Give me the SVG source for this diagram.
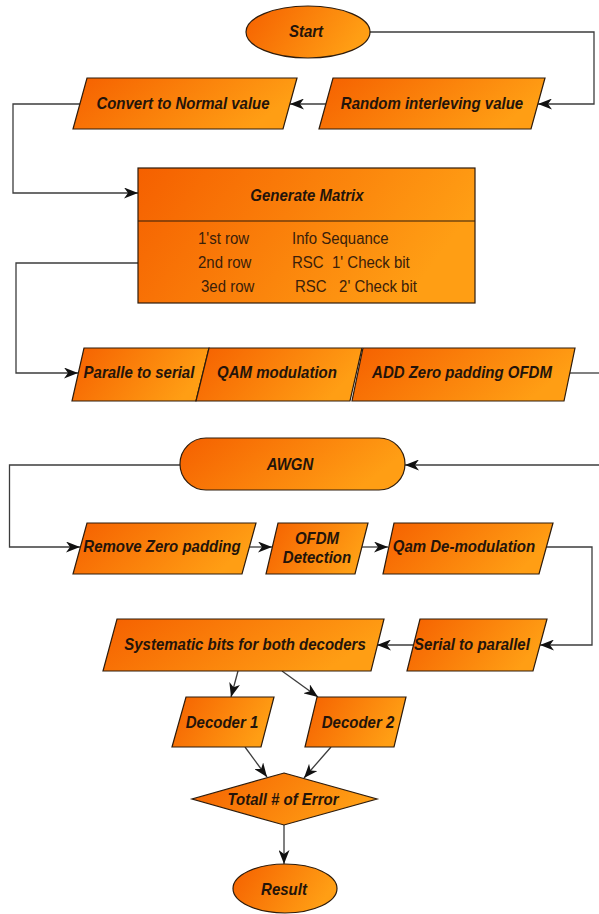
<svg xmlns="http://www.w3.org/2000/svg" width="599" height="914" viewBox="0 0 599 914">
<defs>
<linearGradient id="og" x1="0" y1="0" x2="1" y2="0.3">
<stop offset="0" stop-color="#F56000"/>
<stop offset="1" stop-color="#FF9E14"/>
</linearGradient>
<marker id="arr" viewBox="0 0 14 11" refX="14" refY="5.5" markerWidth="14" markerHeight="11" orient="auto" markerUnits="userSpaceOnUse">
<path d="M0,0 L14,5.5 L0,11 L4,5.5 z" fill="#111"/>
</marker>
</defs>
<style>
.n{fill:url(#og);stroke:#2e1c0c;stroke-width:1.2}
.t{font-family:"Liberation Sans",Arial,sans-serif;font-size:15px;font-weight:bold;font-style:italic;fill:#24140a;text-anchor:middle}
.r{font-family:"Liberation Sans",Arial,sans-serif;font-size:15px;fill:#3a200a}
.t,.r{transform-box:fill-box;transform-origin:center;transform:scaleY(1.07)}
.c{fill:none;stroke:#3c3c3c;stroke-width:1.3}
.a{marker-end:url(#arr)}
</style>
<rect width="599" height="914" fill="#fff"/>
<g id="connectors">
<path class="c a" d="M370,32 H594 V104 H538"/>
<path class="c a" d="M326,104 H290"/>
<path class="c a" d="M80,104 H13 V193 H138"/>
<path class="c a" d="M138,263 H16 V373 H78"/>
<path class="c" d="M569,373 H599"/>
<path class="c a" d="M599,465 H405"/>
<path class="c a" d="M180,465 H9.5 V547 H80"/>
<path class="c a" d="M249,547 H272"/>
<path class="c a" d="M362,547 H388"/>
<path class="c a" d="M546,547 H592 V645 H540"/>
<path class="c a" d="M413,645 H377"/>
<path class="c a" d="M238,671 L231,697"/>
<path class="c a" d="M282,671 L318,697"/>
<path class="c a" d="M245,747 L267,777"/>
<path class="c a" d="M331,747 L304,778"/>
<path class="c a" d="M284,825 V864"/>
</g>
<g id="start">
<ellipse class="n" cx="308" cy="32" rx="62" ry="26"/>
<text class="t" x="306" y="37">Start</text>
</g>
<g id="random">
<polygon class="n" points="333,78 545,78 531,129 319,129"/>
<text class="t" x="432" y="109">Random interleving value</text>
</g>
<g id="convert">
<polygon class="n" points="87,78 297,78 283,129 73,129"/>
<text class="t" x="183" y="109">Convert to Normal value</text>
</g>
<g id="matrix">
<rect class="n" x="138" y="168" width="337" height="135"/>
<line x1="138" y1="221" x2="475" y2="221" stroke="#2e1c0c" stroke-width="1.2"/>
<text class="t" x="307" y="201">Generate Matrix</text>
<text class="r" x="198" y="244">1'st row</text>
<text class="r" x="292" y="244">Info Sequance</text>
<text class="r" x="198" y="268">2nd row</text>
<text class="r" x="292" y="268" xml:space="preserve">RSC  1' Check bit</text>
<text class="r" x="201" y="292">3ed row</text>
<text class="r" x="295" y="292" xml:space="preserve">RSC   2' Check bit</text>
</g>
<g id="p2s">
<polygon class="n" points="84,348 209,348 196,401 72,401"/>
<text class="t" x="139" y="378">Paralle to serial</text>
</g>
<g id="qam">
<polygon class="n" points="209,348 362,348 350,401 196,401"/>
<text class="t" x="277" y="378">QAM modulation</text>
</g>
<g id="addzp">
<polygon class="n" points="363,348 575,348 564,401 352,401"/>
<text class="t" x="462" y="378">ADD Zero padding OFDM</text>
</g>
<g id="awgn">
<rect class="n" x="180" y="438" width="225" height="52" rx="26" ry="26"/>
<text class="t" x="290" y="470">AWGN</text>
</g>
<g id="rzp">
<polygon class="n" points="87,523 256,523 242,574 73,574"/>
<text class="t" x="162" y="552">Remove Zero padding</text>
</g>
<g id="ofdm">
<polygon class="n" points="278,523 368,523 355,574 266,574"/>
<text class="t" x="317" y="544">OFDM</text>
<text class="t" x="317" y="563">Detection</text>
</g>
<g id="qamdem">
<polygon class="n" points="394,523 553,523 539,574 383,574"/>
<text class="t" x="464" y="552">Qam De-modulation</text>
</g>
<g id="s2p">
<polygon class="n" points="420,619 547,619 533,671 407,671"/>
<text class="t" x="472" y="650">Serial to parallel</text>
</g>
<g id="systematic">
<polygon class="n" points="117,619 384,619 371,671 103,671"/>
<text class="t" x="245" y="650">Systematic bits for both decoders</text>
</g>
<g id="dec1">
<polygon class="n" points="186,697 274,697 261,747 172,747"/>
<text class="t" x="222" y="728">Decoder 1</text>
</g>
<g id="dec2">
<polygon class="n" points="317,697 406,697 394,747 305,747"/>
<text class="t" x="358" y="728">Decoder 2</text>
</g>
<g id="total">
<polygon class="n" points="284,773 377,799 284,825 192,799"/>
<text class="t" x="283" y="805">Totall # of Error</text>
</g>
<g id="result">
<ellipse class="n" cx="285" cy="888.5" rx="52" ry="24.5"/>
<text class="t" x="284" y="895">Result</text>
</g>
</svg>
